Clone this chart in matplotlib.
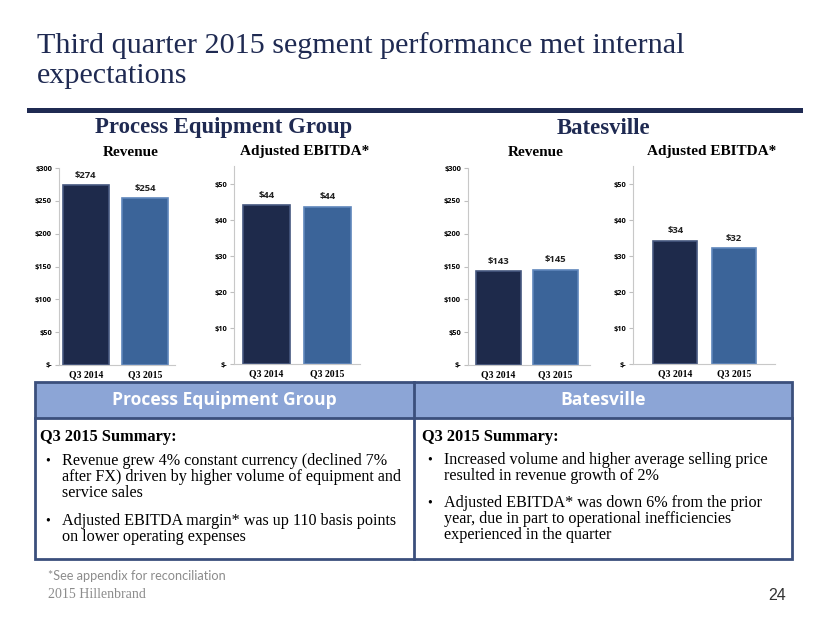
import matplotlib.pyplot as plt
from matplotlib.patches import Rectangle

# ---- data ------------------------------------------------------------
periods = ["Q3 2014", "Q3 2015"]
peg_revenue = [274, 254]
peg_ebitda = [44.1, 43.6]
bat_revenue = [143, 145]
bat_ebitda = [34.3, 32.2]

revenue_ticks = [0, 50, 100, 150, 200, 250, 300]
ebitda_ticks = [0, 10, 20, 30, 40, 50]

title_lines = ["Third quarter 2015 segment performance met internal", "expectations"]
peg_bullets = [
    ["Revenue grew 4% constant currency (declined 7%",
     "after FX) driven by higher volume of equipment and",
     "service sales"],
    ["Adjusted EBITDA margin* was up 110 basis points",
     "on lower operating expenses"],
]
bat_bullets = [
    ["Increased volume and higher average selling price",
     "resulted in revenue growth of 2%"],
    ["Adjusted EBITDA* was down 6% from the prior",
     "year, due in part to operational inefficiencies",
     "experienced in the quarter"],
]

W, H = 830, 623
NAVY = "#1f2a52"
BAR_COLORS = ["#1e2a4b", "#3b6499"]
BAR_EDGES = ["#46577f", "#5f86bb"]
SERIF = "Liberation Serif"
SANS = "Open Sans"

fig = plt.figure(figsize=(W / 100, H / 100), dpi=100)
fig.patch.set_facecolor("white")

# overlay axes in pixel coordinates for slide decoration
bg = fig.add_axes([0, 0, 1, 1])
bg.set_xlim(0, W)
bg.set_ylim(H, 0)
bg.axis("off")

# title
bg.text(37, 46, title_lines[0], fontsize=21.7, family=SERIF, color=NAVY, va="center")
bg.text(37, 76, title_lines[1], fontsize=21.7, family=SERIF, color=NAVY, va="center")
bg.add_patch(Rectangle((27, 108), 776, 5, color=NAVY, lw=0))

# group headers
bg.text(224, 128, "Process Equipment Group", fontsize=16.4, family=SERIF,
        weight="bold", color=NAVY, ha="center", va="center")
bg.text(603, 128, "Batesville", fontsize=16.4, family=SERIF,
        weight="bold", color=NAVY, ha="center", va="center")
for x, s in [(131, "Revenue"), (305, "Adjusted EBITDA*"),
             (536, "Revenue"), (712, "Adjusted EBITDA*")]:
    bg.text(x, 152, s, fontsize=11, family=SERIF, weight="bold",
            color="black", ha="center", va="center")


def px_axes(left, right, y0, ytop):
    # y0: pixel row of value 0, ytop: pixel row of axis top
    return fig.add_axes([left / W, (H - y0) / H, (right - left) / W, (y0 - ytop) / H])


def bar_chart(ax, values, xlim, width, ymax, ticks):
    x = range(len(values))
    ax.bar(x, values, width=width, color=BAR_COLORS, edgecolor=BAR_EDGES, linewidth=1.2)
    for xi, v in zip(x, values):
        ax.annotate("${:.0f}".format(v), (xi, v), xytext=(0, 4), textcoords="offset points",
                    ha="center", va="bottom", fontsize=6.8, family=SANS,
                    weight="bold", color="#222222")
    ax.set_xlim(*xlim)
    ax.set_ylim(0, ymax)
    ax.set_yticks(ticks)
    ax.set_yticklabels(["$-" if t == 0 else "${}".format(t) for t in ticks],
                       fontsize=5.3, family=SANS, weight="bold")
    ax.set_xticks(list(x))
    ax.set_xticklabels(periods, fontsize=7, family=SERIF, weight="bold")
    ax.tick_params(axis="y", length=3, color="#bfbfbf", pad=2)
    ax.tick_params(axis="x", length=0, pad=4)
    for s in ["top", "right"]:
        ax.spines[s].set_visible(False)
    for s in ["left", "bottom"]:
        ax.spines[s].set_color("#c8c8c8")
        ax.spines[s].set_linewidth(0.8)
    ax.patch.set_alpha(0)


ax1 = px_axes(59, 175, 365, 168)
bar_chart(ax1, peg_revenue, (-0.45, 1.5), 0.77, 300, revenue_ticks)
ax2 = px_axes(234, 360, 364, 166)
bar_chart(ax2, peg_ebitda, (-0.53, 1.53), 0.77, 55, ebitda_ticks)
ax3 = px_axes(468, 590, 365, 168)
bar_chart(ax3, bat_revenue, (-0.53, 1.6), 0.78, 300, revenue_ticks)
ax4 = px_axes(633, 775, 364, 166)
bar_chart(ax4, bat_ebitda, (-0.72, 1.7), 0.75, 55, ebitda_ticks)

# summary table
BORDER = "#3b4f7c"
bg.add_patch(Rectangle((35, 382), 757, 36, facecolor="#8ca5d6", edgecolor="none"))
bg.add_patch(Rectangle((35, 382), 757, 177, facecolor="none", edgecolor=BORDER, lw=2))
bg.plot([35, 792], [418, 418], color=BORDER, lw=2)
bg.plot([414, 414], [382, 559], color=BORDER, lw=2)
bg.text(224, 400, "Process Equipment Group", fontsize=12.6, family=SANS,
        weight="bold", color="white", ha="center", va="center")
bg.text(603, 400, "Batesville", fontsize=12.6, family=SANS,
        weight="bold", color="white", ha="center", va="center")


def summary(x0, bullets, starts):
    bg.text(x0, 437, "Q3 2015 Summary:", fontsize=11.8, family=SERIF, weight="bold",
            color="black", va="center")
    for lines, y in zip(bullets, starts):
        bg.text(x0 + 5, y, "\u2022", fontsize=10, family=SERIF, va="center")
        for i, line in enumerate(lines):
            bg.text(x0 + 22, y + i * 16.2, line, fontsize=11.6, family=SERIF,
                    color="black", va="center")


summary(40, peg_bullets, [461, 521])
summary(422, bat_bullets, [460, 503])

# footer
bg.text(48, 576, "*See appendix for reconciliation", fontsize=9.2, family="Lato",
        color="#8c8c8c", va="center")
bg.text(48, 595, "2015 Hillenbrand", fontsize=10, family=SERIF, color="#8c8c8c", va="center")
bg.text(777, 595, "24", fontsize=11.5, family="Liberation Sans", color="#333333",
        va="center", ha="center")

fig.savefig("out.png", dpi=100)
